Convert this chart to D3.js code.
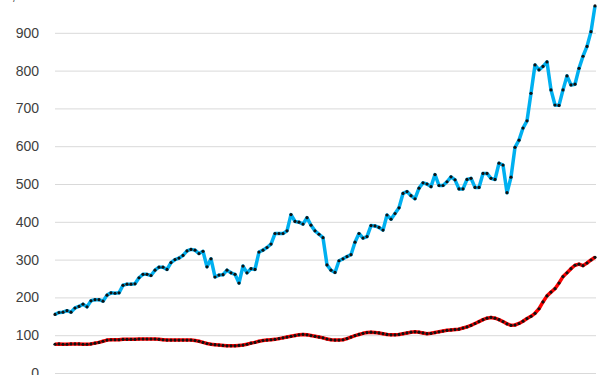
<!DOCTYPE html>
<html>
<head>
<meta charset="utf-8">
<script src="https://cdn.jsdelivr.net/npm/d3@7"></script>
<style>
  html, body { margin: 0; padding: 0; background: #fff; }
  svg { display: block; }
</style>
</head>
<body>
<div id="chart"></div>
<script>
// values, one per period
var blueSeries = [
  155, 160, 161, 165, 161, 172, 176, 182, 175, 191,
  194, 194, 190, 206, 212, 211, 212, 232, 235, 235,
  236, 252, 261, 261, 258, 272, 280, 280, 274, 292,
  300, 304, 311, 323, 327, 325, 316, 322, 281, 302,
  254, 259, 260, 272, 265, 261, 238, 283, 265, 276,
  274, 320, 325, 332, 341, 369, 369, 369, 376, 419,
  401, 399, 394, 411, 391, 376, 367, 358, 286, 272,
  266, 297, 302, 308, 313, 346, 369, 357, 361, 390,
  389, 385, 378, 418, 407, 422, 437, 475, 480, 469,
  461, 489, 503, 500, 493, 525, 496, 496, 506, 519,
  511, 487, 487, 512, 515, 491, 491, 528, 528, 515,
  512, 555, 550, 477, 518, 597, 616, 648, 667, 740,
  815, 802, 811, 823, 749, 709, 708, 749, 786, 762,
  764, 806, 838, 864, 903, 971
];

var redSeries = [
  76, 77, 76, 76, 77, 77, 77, 76, 76, 77,
  79, 81, 84, 87, 88, 88, 88, 89, 89, 89,
  89, 90, 90, 90, 90, 90, 89, 88, 87, 87,
  87, 87, 87, 87, 87, 86, 84, 81, 78, 76,
  75, 74, 73, 72, 72, 72, 73, 74, 76, 79,
  81, 84, 86, 87, 88, 89, 91, 93, 95, 97,
  99, 101, 102, 101, 99, 97, 95, 93, 90, 88,
  87, 87, 88, 91, 95, 99, 102, 105, 107, 108,
  107, 106, 104, 102, 101, 101, 102, 104, 106, 108,
  109, 108, 106, 104, 105, 107, 109, 111, 113, 114,
  115, 116, 119, 122, 126, 131, 136, 141, 145, 147,
  145, 141, 136, 130, 126, 127, 131, 137, 144, 150,
  158, 170, 188, 204, 214, 223, 238, 255, 265, 276,
  285, 288, 284, 291, 299, 306
];

var yTicks = [0, 100, 200, 300, 400, 500, 600, 700, 800, 900, 1000];

var
  W = 600, H = 375,
  margin = {top: -5, right: 4, bottom: 2, left: 55},
  width = W - margin.left - margin.right,
  height = H - margin.top - margin.bottom;

var svg = d3.select("#chart")
  .append("svg")
  .attr("width", W)
  .attr("height", H)
  .style("overflow", "hidden");

var g = svg.append("g")
  .attr("transform", "translate(" + margin.left + "," + margin.top + ")");

var x = d3.scaleLinear()
  .domain([0, blueSeries.length - 1])
  .range([0, width - 1]);

var y = d3.scaleLinear()
  .domain([0, 1000])
  .range([height, 0]);

// gridlines + tick labels (top and bottom labels are clipped by the frame, as in the original)
var yAxis = d3.axisLeft(y)
  .tickValues(yTicks)
  .tickFormat(d3.format(","))
  .tickSizeInner(-width)
  .tickSizeOuter(0)
  .tickPadding(16);

g.append("g")
  .attr("class", "axis axis--y")
  .call(yAxis)
  .call(function(ax) {
    ax.select(".domain").remove();
    ax.selectAll(".tick line").attr("stroke", "#d9d9d9").attr("stroke-width", 1);
    ax.selectAll(".tick text")
      .attr("fill", "#404040")
      .style("font", "14px 'Liberation Sans', Arial, sans-serif");
  });

var line = d3.line()
  .x(function(d, i) { return x(i); })
  .y(function(d) { return y(d); });

function drawSeries(data, color) {
  g.append("path")
    .datum(data)
    .attr("fill", "none")
    .attr("stroke", color)
    .attr("stroke-width", 3.5)
    .attr("stroke-linejoin", "round")
    .attr("d", line);

  g.append("g")
    .selectAll("circle")
    .data(data)
    .enter().append("circle")
      .attr("cx", function(d, i) { return x(i); })
      .attr("cy", function(d) { return y(d); })
      .attr("r", 1.6)
      .attr("fill", "#111");
}

drawSeries(redSeries, "#ff0000");
drawSeries(blueSeries, "#00b0f0");
</script>
</body>
</html>
